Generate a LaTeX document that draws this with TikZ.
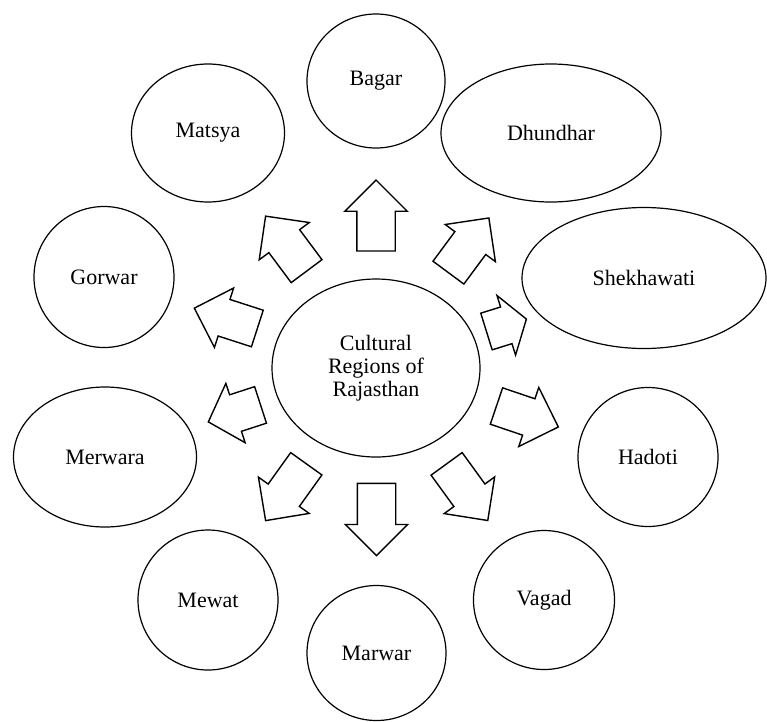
\documentclass[tikz,border=0pt]{standalone}
\usepackage{fontspec}
\setmainfont{Liberation Serif}
\usetikzlibrary{shapes.geometric, shapes.arrows}

\begin{document}
\begin{tikzpicture}[
    x=1pt, y=-1pt,
    region/.style={ellipse, draw=black, line width=1.2pt, inner sep=0pt, align=center, font=\fontsize{22}{23}\selectfont},
    blockarrow/.style={single arrow, draw=black, line width=1.4pt, inner xsep=0pt, inner ysep=18.5pt, minimum width=61pt, single arrow head extend=12pt, single arrow tip angle=90, anchor=tail}
]

\useasboundingbox (0,0) rectangle (767,721);

% centre and the ten regions
\node[region, minimum width=208pt, minimum height=178pt] (centre) at (376,368) {Cultural\\Regions of\\Rajasthan};

\node[region, minimum width=138pt, minimum height=134pt] (bagar) at (376,81) {Bagar};
\node[region, minimum width=153pt, minimum height=138pt] (matsya) at (208,133) {Matsya};
\node[region, minimum width=220pt, minimum height=138pt] (dhundhar) at (551,133) {Dhundhar};
\node[region, minimum width=140pt, minimum height=141pt] (gorwar) at (104,277) {Gorwar};
\node[region, minimum width=244pt, minimum height=141pt] (shekhawati) at (644,278) {Shekhawati};
\node[region, minimum width=183pt, minimum height=140pt] (merwara) at (105,457) {Merwara};
\node[region, minimum width=140pt, minimum height=139pt] (hadoti) at (648,457) {Hadoti};
\node[region, minimum width=140pt, minimum height=140pt] (mewat) at (208,600) {Mewat};
\node[region, minimum width=141pt, minimum height=139pt] (vagad) at (544,600) {Vagad};
\node[region, minimum width=139pt, minimum height=135pt] (marwar) at (376.5,653) {Marwar};

% block arrows pointing out from the centre (placed by their tails)
\node[blockarrow, minimum height=71pt, rotate=90] (tobagar) at (376,251.7) {};
\node[blockarrow, minimum height=68.6pt, rotate=126.7] (tomatsya) at (307,271.7) {};
\node[blockarrow, minimum height=68pt, rotate=53.5] (todhundhar) at (448,273.2) {};
\node[blockarrow, minimum height=66.2pt, rotate=162.1] (togorwar) at (258,328.7) {};
\node[blockarrow, minimum height=41.8pt, rotate=17.3, single arrow tip angle=112] (toshekhawati) at (485.8,331.7) {};
\node[blockarrow, minimum height=54.9pt, rotate=198, single arrow tip angle=95] (tomerwara) at (261.2,404.7) {};
\node[blockarrow, minimum height=65.3pt, rotate=-18.7] (tohadoti) at (495.8,405.8) {};
\node[blockarrow, minimum height=69.9pt, rotate=234.4] (tomewat) at (306.7,463.2) {};
\node[blockarrow, minimum height=72.3pt, rotate=270] (tomarwar) at (376.5,482.7) {};
\node[blockarrow, minimum height=70pt, rotate=306] (tovagad) at (446.2,463.3) {};

\end{tikzpicture}
\end{document}
